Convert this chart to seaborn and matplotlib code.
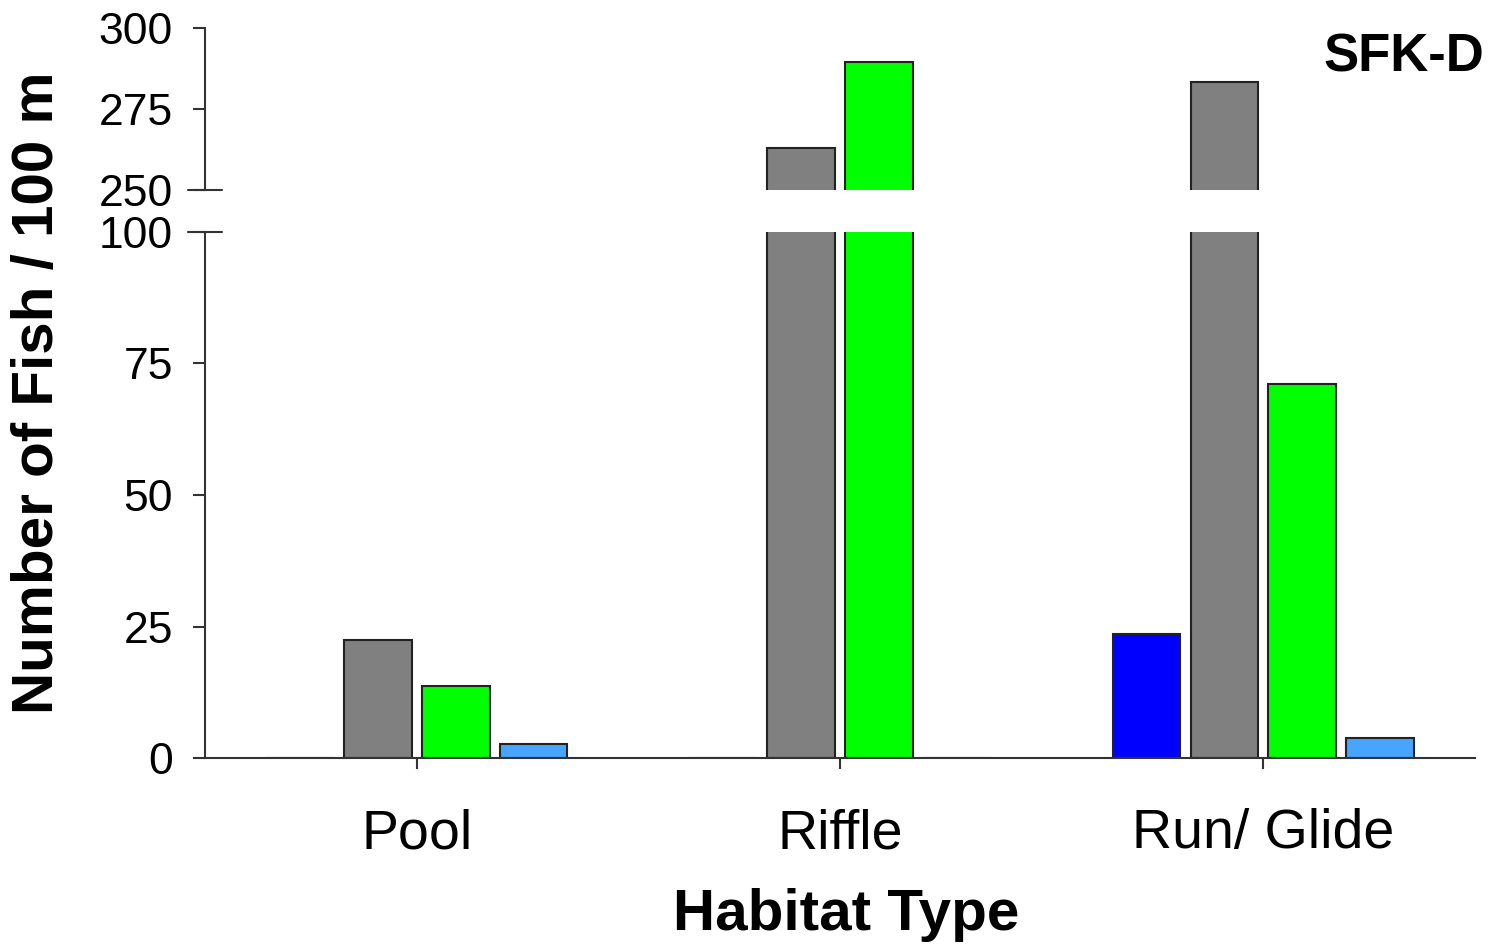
import pandas as pd
import matplotlib.pyplot as plt
import seaborn as sns

# Fish density per habitat type, SFK-D reach
habitats = ["Pool", "Riffle", "Run/ Glide"]
groups = ["Group 1", "Group 2", "Group 3", "Group 4"]
group1 = [0, 0, 23.6]
group2 = [22.4, 263, 283.3]
group3 = [13.7, 289.5, 71.1]
group4 = [2.7, 0, 3.8]
colors = ["#0000FF", "#808080", "#00FF00", "#47A5FF"]

lower_ticks = [0, 25, 50, 75, 100]
upper_ticks = [250, 275, 300]


def build_frame():
    rows = []
    for name, values in zip(groups, [group1, group2, group3, group4]):
        for hab, v in zip(habitats, values):
            rows.append({"habitat": hab, "group": name, "count": v})
    return pd.DataFrame(rows)


def draw_bars(df, ax):
    sns.barplot(data=df, x="habitat", y="count", hue="group",
                order=habitats, hue_order=groups, palette=colors,
                saturation=1, width=0.736, gap=0.13,
                edgecolor="#222222", linewidth=1.5,
                errorbar=None, legend=False, ax=ax)
    ax.set_xlim(-0.5, 2.5)
    ax.set_xlabel("")
    ax.set_ylabel("")


def main():
    sns.set_theme(style="white")
    plt.rcParams["font.family"] = ["Liberation Sans", "DejaVu Sans"]
    plt.rcParams["text.color"] = "black"
    plt.rcParams["xtick.labelcolor"] = "black"
    plt.rcParams["ytick.labelcolor"] = "black"

    df = build_frame()
    fig = plt.figure(figsize=(14.89, 9.46), dpi=100)
    ax_top = fig.add_axes([0.1377, 0.7992, 0.8529, 0.1712])
    ax_bot = fig.add_axes([0.1377, 0.1987, 0.8529, 0.5561])

    for ax in (ax_top, ax_bot):
        draw_bars(df, ax)
        for side in ("top", "right"):
            ax.spines[side].set_visible(False)
        ax.spines["left"].set_color("#333333")
        ax.spines["left"].set_linewidth(1.5)
        ax.tick_params(axis="y", direction="out", length=9, width=1.5,
                       color="#333333", labelcolor="black", labelsize=32,
                       pad=14, left=True)

    ax_top.set_ylim(250, 300)
    ax_top.set_yticks(upper_ticks)
    ax_top.spines["bottom"].set_visible(False)
    ax_top.tick_params(axis="x", bottom=False, labelbottom=False)

    ax_bot.set_ylim(0, 100)
    ax_bot.set_yticks(lower_ticks)
    ax_bot.spines["bottom"].set_color("#333333")
    ax_bot.spines["bottom"].set_linewidth(1.5)
    ax_bot.tick_params(axis="x", direction="out", length=8, width=1.5,
                       color="#333333", labelcolor="black", labelsize=40,
                       pad=28, bottom=True)

    # break marks across the y axis
    d = 17 / 1270
    ax_top.plot([-d, d], [0, 0], transform=ax_top.transAxes,
                color="#333333", lw=1.5, clip_on=False)
    ax_bot.plot([-d, d], [1, 1], transform=ax_bot.transAxes,
                color="#333333", lw=1.5, clip_on=False)

    fig.text(846 / 1489, 1 - 915 / 946, "Habitat Type", fontsize=42,
             fontweight="bold", ha="center", va="center", color="black")
    fig.text(38 / 1489, 1 - 393 / 946, "Number of Fish / 100 m", fontsize=42,
             fontweight="bold", ha="center", va="center", rotation=90,
             color="black")
    fig.text(1484 / 1489, 1 - 32 / 946, "SFK-D", fontsize=38,
             fontweight="bold", ha="right", va="top", color="black")

    fig.savefig("out.png", dpi=100)


if __name__ == "__main__":
    main()
